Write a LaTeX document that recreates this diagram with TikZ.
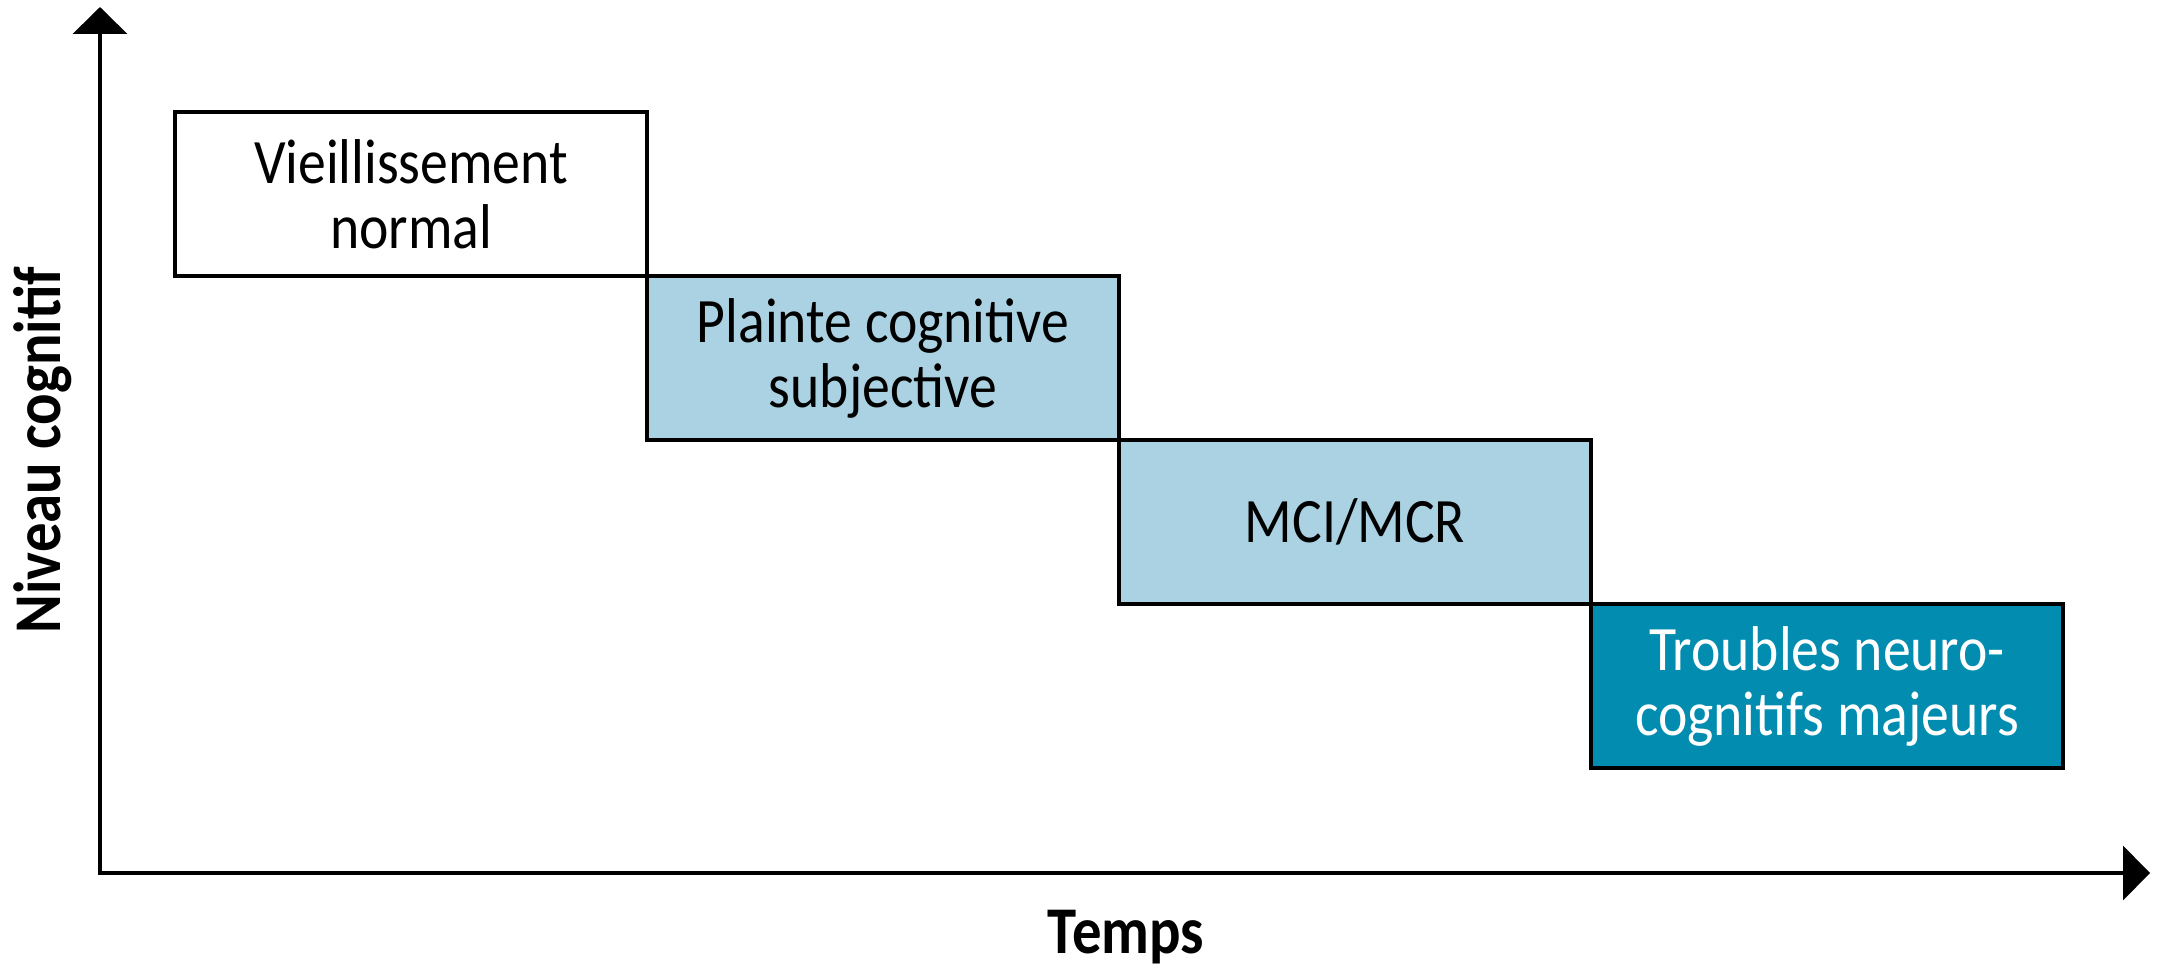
\documentclass[tikz,border=0pt]{standalone}
\usepackage{fontspec}
\setmainfont[FakeStretch=0.88]{Carlito}
\usetikzlibrary{positioning,arrows.meta}
\definecolor{lightstage}{HTML}{ABD2E2}
\definecolor{darkstage}{HTML}{028DB0}
\begin{document}
\begin{tikzpicture}[line width=1.1pt,
		stage/.style = {shape=rectangle, draw, align=center, outer sep=0pt,
			minimum width=4.72cm, minimum height=1.64cm,
			font=\fontsize{18}{18.5}\selectfont},
		axislabel/.style = {font=\fontsize{19}{20}\selectfont\bfseries}]
	\useasboundingbox (0,0) rectangle (21.66,9.69);
	\coordinate (origin) at (1,0.96);
	\coordinate (top) at (1,9.62);
	\coordinate (right) at (21.5,0.96);
	\draw[{Triangle[length=0.27cm,width=0.54cm]}-{Triangle[length=0.27cm,width=0.54cm]}]
		(top) -- (origin) -- (right);
	\node[stage, anchor=north west] (normal) at (1.75,8.57) {Vieillissement\\normal};
	\node[stage, fill=lightstage, below right=0pt and 0pt of normal] (plainte) {Plainte cognitive\\subjective};
	\node[stage, fill=lightstage, below right=0pt and 0pt of plainte] (mci) {MCI/MCR};
	\node[stage, fill=darkstage, text=white, below right=0pt and 0pt of mci] (tnc) {Troubles neuro-\\cognitifs majeurs};
	\node[axislabel, rotate=90] (niveau) at (0.43,5.19) {Niveau cognitif};
	\node[axislabel, anchor=base] (temps) at (11.26,0.16) {Temps};
\end{tikzpicture}
\end{document}
